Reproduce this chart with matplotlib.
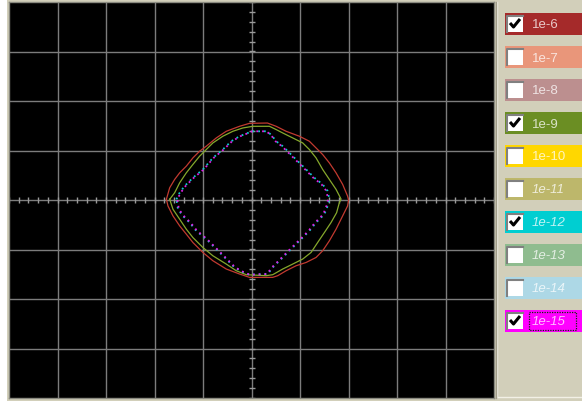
import numpy as np
import matplotlib
matplotlib.use("Agg")
import matplotlib.pyplot as plt
from matplotlib.patches import Rectangle

# curve data (grid units)
red_x = [-1.755, -1.687, -1.584, -1.481, -1.344, -1.208, -1.070, -0.932, -0.726, -0.521,
         -0.247, -0.041, 0.329, 0.508, 0.714, 0.988, 1.193, 1.331, 1.467, 1.605,
         1.743, 1.879, 1.981, 2.002, 1.981, 1.879, 1.743, 1.605, 1.467, 1.331,
         1.126, 0.920, 0.714, 0.541, 0.438, -0.041, -0.247, -0.521, -0.796, -1.002,
         -1.208, -1.344, -1.481, -1.619, -1.722, -1.755]
red_y = [0.014, 0.247, 0.416, 0.549, 0.684, 0.851, 0.986, 1.087, 1.254, 1.388,
         1.489, 1.549, 1.555, 1.489, 1.388, 1.288, 1.187, 1.052, 0.919, 0.750,
         0.549, 0.316, 0.080, 0.0, -0.121, -0.322, -0.590, -0.825, -1.026, -1.161,
         -1.262, -1.328, -1.429, -1.529, -1.563, -1.563, -1.495, -1.394, -1.227, -1.060,
         -0.859, -0.690, -0.523, -0.322, -0.121, 0.014]

green_x = [-1.687, -1.584, -1.481, -1.344, -1.208, -1.070, -0.932, -0.796, -0.591, -0.385,
           -0.179, 0.027, 0.370, 0.508, 0.644, 0.850, 1.056, 1.193, 1.331, 1.467,
           1.605, 1.743, 1.846, 1.811, 1.755, 1.640, 1.502, 1.364, 1.228, 1.056,
           0.850, 0.644, 0.438, 0.302, -0.109, -0.315, -0.521, -0.796, -1.002, -1.208,
           -1.344, -1.481, -1.619, -1.687]
green_y = [0.014, 0.147, 0.348, 0.549, 0.718, 0.885, 1.020, 1.153, 1.288, 1.388,
           1.455, 1.489, 1.489, 1.423, 1.354, 1.254, 1.153, 1.020, 0.851, 0.618,
           0.416, 0.215, 0.020, -0.054, -0.256, -0.455, -0.658, -0.859, -1.060, -1.193,
           -1.294, -1.394, -1.509, -1.529, -1.509, -1.429, -1.294, -1.127, -0.960, -0.759,
           -0.590, -0.388, -0.187, 0.014]

cyan_x = [-1.549, -1.481, -1.379, -1.208, -1.002, -0.796, -0.591, -0.418, -0.247, -0.076,
          0.0, 0.302, 0.405, 0.508, 0.644, 0.782, 0.953, 1.126, 1.296, 1.467,
          1.570, 1.605, 1.570, 1.502, 1.331, 1.193, 1.056, 0.920, 0.714, 0.576,
          0.438, 0.335, -0.041, -0.144, -0.350, -0.521, -0.726, -0.932, -1.138, -1.276,
          -1.414, -1.516, -1.549]
cyan_y = [0.014, 0.147, 0.282, 0.449, 0.618, 0.851, 1.020, 1.187, 1.288, 1.354,
          1.388, 1.388, 1.322, 1.187, 1.087, 0.952, 0.785, 0.618, 0.449, 0.316,
          0.181, 0.014, -0.121, -0.288, -0.457, -0.624, -0.759, -0.891, -1.093, -1.227,
          -1.362, -1.495, -1.509, -1.475, -1.362, -1.193, -0.992, -0.791, -0.624, -0.457,
          -0.322, -0.187, 0.014]

magenta_x = [-1.530, -1.460, -1.360, -1.190, -0.985, -0.780, -0.575, -0.400, -0.230, -0.060,
             0.010, 0.300, 0.395, 0.495, 0.625, 0.765, 0.935, 1.105, 1.275, 1.445,
             1.545, 1.580, 1.545, 1.480, 1.310, 1.175, 1.038, 0.900, 0.695, 0.560,
             0.420, 0.320, -0.030, -0.130, -0.335, -0.505, -0.710, -0.915, -1.120, -1.258,
             -1.395, -1.497, -1.530]
magenta_y = cyan_y

legend_labels = ["1e-6", "1e-7", "1e-8", "1e-9", "1e-10",
                 "1e-11", "1e-12", "1e-13", "1e-14", "1e-15"]
legend_colors = ["#A52A2A", "#E9967A", "#BC8F8F", "#6B8E23", "#FFD700",
                 "#BDB76B", "#00CED1", "#8FBC8F", "#ADD8E6", "#FF00FF"]
legend_checked = [True, False, False, True, False, False, True, False, False, True]

W, H = 582, 402
fig = plt.figure(figsize=(W / 100, H / 100), dpi=100)
fig.patch.set_facecolor("#D2CFBA")

# main black plot area
ax = fig.add_axes([9 / W, 3 / H, 485 / W, 396 / H])
ax.set_facecolor("black")
ax.set_xlim(-5, 5)
ax.set_ylim(-4, 4)
for s in ax.spines.values():
    s.set_color("#8A8A80")
    s.set_linewidth(1)
ax.set_xticks(np.arange(-4, 5, 1))
ax.set_yticks(np.arange(-3, 4, 1))
ax.tick_params(length=0, labelbottom=False, labelleft=False)
ax.grid(True, color="#7C7C7C", linewidth=1)

# small ticks on the centre axes
tk = np.arange(-5, 5.01, 0.2)
ax.plot(tk, np.zeros_like(tk), linestyle="none", marker="|", markersize=5,
        color="#9A9A9A", markeredgewidth=1)
tk = np.arange(-4, 4.01, 0.2)
ax.plot(np.zeros_like(tk), tk, linestyle="none", marker="_", markersize=5,
        color="#9A9A9A", markeredgewidth=1)

ax.plot(red_x, red_y, color="#C23A30", linewidth=0.9)
ax.plot(green_x, green_y, color="#86A82C", linewidth=0.9)
ax.plot(cyan_x, cyan_y, color="#10C8D0", linewidth=1.3, linestyle=(0, (1, 2.2)))
ax.plot(magenta_x, magenta_y, color="#E020E8", linewidth=1.3, linestyle=(1.5, (1, 2.2)))

# white strip on the left edge
fig.add_artist(Rectangle((0, 0), 7 / W, 1, transform=fig.transFigure,
                         facecolor="white", edgecolor="none"))

# legend panel (pixel coordinates)
lp = fig.add_axes([0, 0, 1, 1], facecolor="none")
lp.set_xlim(0, W)
lp.set_ylim(H, 0)
lp.axis("off")
lp.plot([497, 497], [3, 398], color="#F2F0E6", linewidth=1)
lp.plot([497, 582], [398, 398], color="#F2F0E6", linewidth=1)
lp.plot([496, 496], [3, 399], color="#A09C88", linewidth=1)

for i, (lab, col, chk) in enumerate(zip(legend_labels, legend_colors, legend_checked)):
    top = 14 + i * 33
    lp.add_patch(Rectangle((505, top), 80, 22, facecolor=col, edgecolor="none"))
    # checkbox
    lp.add_patch(Rectangle((507, top + 3), 16, 16, facecolor="white", edgecolor="none"))
    lp.plot([507, 507, 523], [top + 19, top + 3, top + 3], color="#808080", linewidth=1.5)
    if chk:
        lp.plot([510, 513.5, 520], [top + 10, top + 14, top + 6], color="black",
                linewidth=2.2, solid_capstyle="butt")
    style = "italic" if i >= 5 else "normal"
    lp.text(532, top + 11.5, lab, color="white", alpha=0.75, fontsize=9.5,
            family="Liberation Sans", style=style, va="center", ha="left")
    if i == len(legend_labels) - 1:
        lp.add_patch(Rectangle((529, top + 2), 47, 18, facecolor="none", edgecolor="#103010",
                               linewidth=0.9, linestyle=(0, (1, 1))))

fig.savefig("out.png", dpi=100, facecolor=fig.get_facecolor())
